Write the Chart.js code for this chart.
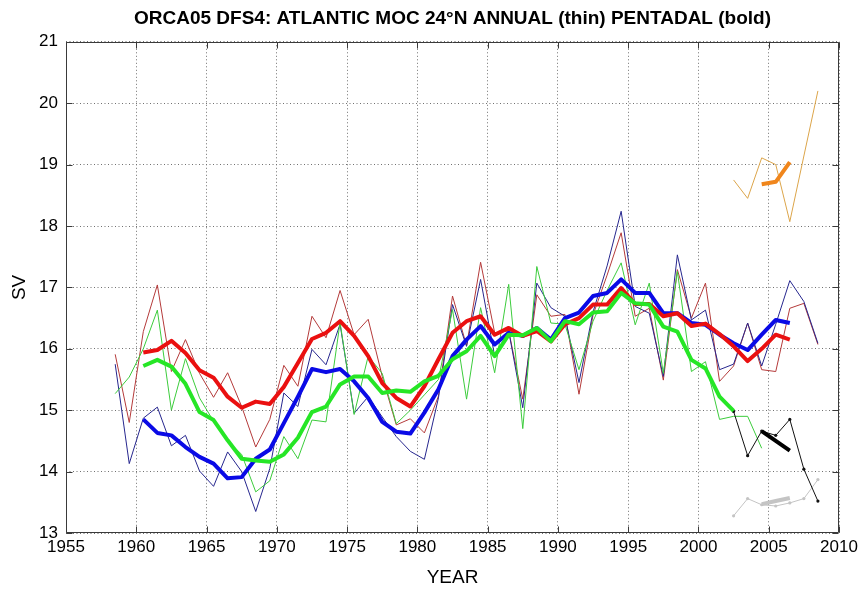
<!DOCTYPE html>
<html>
<head>
<meta charset="utf-8">
<title>ORCA05 DFS4 Atlantic MOC 24N</title>
<script src="https://cdn.jsdelivr.net/npm/chart.js@4.4.1/dist/chart.umd.min.js"></script>
<style>
  html, body { margin: 0; padding: 0; background: #ffffff; }
  #wrap { width: 864px; height: 590px; }
</style>
</head>
<body>
<div id="wrap"><canvas id="moc" width="864" height="590"></canvas></div>
<script>
// Time axes (mid-year positions)
const annualYears = [1958.5, 1959.5, 1960.5, 1961.5, 1962.5, 1963.5, 1964.5, 1965.5, 1966.5, 1967.5,
  1968.5, 1969.5, 1970.5, 1971.5, 1972.5, 1973.5, 1974.5, 1975.5, 1976.5, 1977.5,
  1978.5, 1979.5, 1980.5, 1981.5, 1982.5, 1983.5, 1984.5, 1985.5, 1986.5, 1987.5,
  1988.5, 1989.5, 1990.5, 1991.5, 1992.5, 1993.5, 1994.5, 1995.5, 1996.5, 1997.5,
  1998.5, 1999.5, 2000.5, 2001.5, 2002.5, 2003.5, 2004.5, 2005.5, 2006.5, 2007.5, 2008.5];
const pentadYears = [1960.5, 1961.5, 1962.5, 1963.5, 1964.5, 1965.5, 1966.5, 1967.5, 1968.5, 1969.5,
  1970.5, 1971.5, 1972.5, 1973.5, 1974.5, 1975.5, 1976.5, 1977.5, 1978.5, 1979.5,
  1980.5, 1981.5, 1982.5, 1983.5, 1984.5, 1985.5, 1986.5, 1987.5, 1988.5, 1989.5,
  1990.5, 1991.5, 1992.5, 1993.5, 1994.5, 1995.5, 1996.5, 1997.5, 1998.5, 1999.5,
  2000.5, 2001.5, 2002.5, 2003.5, 2004.5, 2005.5, 2006.5];
const recentYears = [2002.5, 2003.5, 2004.5, 2005.5, 2006.5, 2007.5, 2008.5];
const recentPentadYears = [2004.5, 2005.5, 2006.5];

// Annual transports (Sv)
const redAnnual = [15.91, 14.80, 16.28, 17.04, 15.63, 16.15, 15.60, 15.21, 15.61, 15.06,
  14.40, 14.85, 15.73, 15.39, 16.53, 16.18, 16.95, 16.23, 16.48, 15.55,
  14.76, 14.86, 14.63, 15.23, 16.86, 16.05, 17.41, 16.26, 16.29, 15.18,
  16.88, 16.53, 16.56, 15.26, 16.55, 17.20, 17.89, 16.53, 16.66, 15.49,
  17.29, 16.50, 17.07, 15.47, 15.72, 16.42, 15.66, 15.63, 16.66, 16.74, 16.07];
const blueAnnual = [15.75, 14.13, 14.87, 15.05, 14.42, 14.59, 14.01, 13.76, 14.32, 14.00,
  13.35, 14.05, 15.28, 15.06, 15.99, 15.74, 16.40, 14.95, 15.22, 14.89,
  14.57, 14.33, 14.20, 15.20, 16.72, 16.04, 17.13, 15.88, 16.29, 15.04,
  17.07, 16.67, 16.53, 15.45, 16.60, 17.35, 18.24, 16.69, 16.58, 15.55,
  17.53, 16.47, 16.63, 15.66, 15.75, 16.42, 15.72, 16.40, 17.11, 16.77, 16.09];
const greenAnnual = [15.27, 15.54, 16.00, 16.63, 15.00, 15.84, 15.20, 14.82, 14.50, 14.28,
  13.67, 13.85, 14.57, 14.21, 14.84, 14.81, 16.43, 14.93, 15.88, 15.60,
  14.78, 15.00, 15.25, 15.50, 16.64, 15.18, 16.67, 15.61, 17.05, 14.70,
  17.34, 16.42, 16.40, 15.66, 16.45, 16.95, 17.40, 16.39, 17.07, 15.60,
  17.26, 15.63, 15.79, 14.85, 14.90, 14.90, 14.38];
const blackAnnual = [14.98, 14.26, 14.66, 14.59, 14.85, 14.04, 13.52];
const greyAnnual = [13.28, 13.56, 13.46, 13.44, 13.49, 13.56, 13.87];
const orangeAnnual = [18.75, 18.45, 19.11, 19.00, 18.07, 19.14, 20.20];

// Pentadal (5-year) means (Sv)
const redPentad = [15.94, 15.98, 16.13, 15.93, 15.65, 15.53, 15.22, 15.04, 15.14, 15.10,
  15.38, 15.77, 16.16, 16.26, 16.45, 16.21, 15.88, 15.44, 15.20, 15.06,
  15.39, 15.83, 16.26, 16.45, 16.53, 16.23, 16.34, 16.21, 16.29, 16.12,
  16.40, 16.50, 16.72, 16.72, 16.99, 16.73, 16.73, 16.53, 16.58, 16.37,
  16.41, 16.24, 16.04, 15.80, 16.00, 16.23, 16.15];
const bluePentad = [14.85, 14.63, 14.59, 14.40, 14.24, 14.13, 13.89, 13.91, 14.21, 14.36,
  14.79, 15.22, 15.67, 15.62, 15.67, 15.47, 15.20, 14.81, 14.65, 14.62,
  14.96, 15.34, 15.88, 16.15, 16.37, 16.07, 16.26, 16.21, 16.34, 16.15,
  16.50, 16.59, 16.86, 16.91, 17.13, 16.91, 16.91, 16.58, 16.58, 16.42,
  16.39, 16.23, 16.09, 15.98, 16.23, 16.47, 16.42];
const greenPentad = [15.72, 15.82, 15.71, 15.43, 14.97, 14.84, 14.51, 14.21, 14.18, 14.16,
  14.28, 14.55, 14.97, 15.06, 15.42, 15.55, 15.55, 15.28, 15.32, 15.30,
  15.47, 15.56, 15.83, 15.96, 16.21, 15.88, 16.23, 16.22, 16.34, 16.12,
  16.45, 16.40, 16.59, 16.61, 16.91, 16.74, 16.72, 16.36, 16.28, 15.82,
  15.68, 15.22, 14.99];
const blackPentad = [14.66, 14.50, 14.34];
const greyPentad = [13.47, 13.52, 13.57];
const orangePentad = [18.68, 18.72, 19.04];

// Axis ticks
const xTicks = [1955, 1960, 1965, 1970, 1975, 1980, 1985, 1990, 1995, 2000, 2005, 2010];
const yTicks = [13, 14, 15, 16, 17, 18, 19, 20, 21];

const FONT = '"Liberation Sans", Arial, Helvetica, sans-serif';

function pts(years, values) {
  return values.map((v, i) => ({ x: years[i], y: v }));
}
function thin(years, values, color, dots) {
  return {
    data: pts(years, values), borderColor: color, backgroundColor: color,
    borderWidth: 1, pointRadius: dots ? 1.6 : 0, pointHoverRadius: 0,
    pointBorderWidth: 0, tension: 0, fill: false
  };
}
function bold(years, values, color) {
  return {
    data: pts(years, values), borderColor: color, backgroundColor: color,
    borderWidth: 4, pointRadius: 0, pointHoverRadius: 0,
    borderJoinStyle: 'round', borderCapStyle: 'butt', tension: 0, fill: false
  };
}

// listed bottom -> top
const layers = [
  thin(annualYears, redAnnual, '#b43a3a'),
  thin(annualYears, blueAnnual, '#26268e'),
  thin(annualYears, greenAnnual, '#3ccc3c'),
  thin(recentYears, orangeAnnual, '#dca54a'),
  thin(recentYears, greyAnnual, '#c4c4c4', true),
  thin(recentYears, blackAnnual, '#111111', true),
  bold(pentadYears, bluePentad, '#0a0ae6'),
  bold(pentadYears, redPentad, '#ea1010'),
  bold(pentadYears, greenPentad, '#26e626'),
  bold(recentPentadYears, orangePentad, '#f0861c'),
  bold(recentPentadYears, greyPentad, '#c4c4c4'),
  bold(recentPentadYears, blackPentad, '#000000')
];
layers.forEach((d, i) => { d.order = layers.length - i; });

// box frame with inward tick marks on all four sides
const framePlugin = {
  id: 'frame',
  afterDraw(chart) {
    const { ctx, chartArea: a, scales: { x, y } } = chart;
    const L = Math.round(a.left) + 0.5, R = Math.round(a.right) - 0.5;
    const T = Math.round(a.top) + 0.5, B = Math.round(a.bottom) - 0.5;
    const tl = 6;
    ctx.save();
    ctx.strokeStyle = '#3a3a3a';
    ctx.lineWidth = 1;
    ctx.beginPath();
    ctx.moveTo(L, T); ctx.lineTo(R, T); ctx.lineTo(R, B); ctx.lineTo(L, B); ctx.closePath();
    x.ticks.forEach(t => {
      const px = Math.round(x.getPixelForValue(t.value)) + 0.5;
      ctx.moveTo(px, B); ctx.lineTo(px, B - tl);
      ctx.moveTo(px, T); ctx.lineTo(px, T + tl);
    });
    y.ticks.forEach(t => {
      const py = Math.round(y.getPixelForValue(t.value)) + 0.5;
      ctx.moveTo(L, py); ctx.lineTo(L + tl, py);
      ctx.moveTo(R, py); ctx.lineTo(R - tl, py);
    });
    ctx.stroke();
    ctx.restore();
  }
};

new Chart(document.getElementById('moc'), {
  type: 'line',
  data: { datasets: layers },
  options: {
    responsive: false,
    animation: false,
    devicePixelRatio: 1,
    events: [],
    layout: { padding: { left: 0, right: 25, top: 0, bottom: 0 } },
    plugins: {
      legend: { display: false },
      tooltip: { enabled: false },
      title: {
        display: true,
        fullSize: false,
        text: 'ORCA05 DFS4: ATLANTIC MOC 24°N ANNUAL (thin) PENTADAL (bold)',
        color: '#000000',
        font: { family: FONT, size: 19, weight: 'bold', lineHeight: 1.2 },
        padding: { top: 7, bottom: 12 }
      }
    },
    scales: {
      x: {
        type: 'linear',
        min: xTicks[0],
        max: xTicks[xTicks.length - 1],
        afterBuildTicks: s => { s.ticks = xTicks.map(v => ({ value: v })); },
        afterFit: s => { s.height = 57; },
        ticks: {
          color: '#000000',
          font: { family: FONT, size: 17 },
          padding: 4,
          maxRotation: 0,
          autoSkip: false,
          callback: v => String(v)
        },
        grid: { color: '#707070', lineWidth: 1, drawTicks: false },
        border: { display: false, dash: [1, 2.5] },
        title: {
          display: true, text: 'YEAR', color: '#000000',
          font: { family: FONT, size: 19 },
          padding: { top: 0, bottom: 1 }
        }
      },
      y: {
        type: 'linear',
        min: yTicks[0],
        max: yTicks[yTicks.length - 1],
        afterBuildTicks: s => { s.ticks = yTicks.map(v => ({ value: v })); },
        afterFit: s => { s.width = 66; },
        ticks: {
          color: '#000000',
          font: { family: FONT, size: 17 },
          padding: 8,
          autoSkip: false,
          callback: v => String(v)
        },
        grid: { color: '#707070', lineWidth: 1, drawTicks: false },
        border: { display: false, dash: [1, 2.5] },
        title: {
          display: true, text: 'SV', color: '#000000',
          font: { family: FONT, size: 19 },
          padding: { top: 8, bottom: 0 }
        }
      }
    }
  },
  plugins: [framePlugin]
});
</script>
</body>
</html>
